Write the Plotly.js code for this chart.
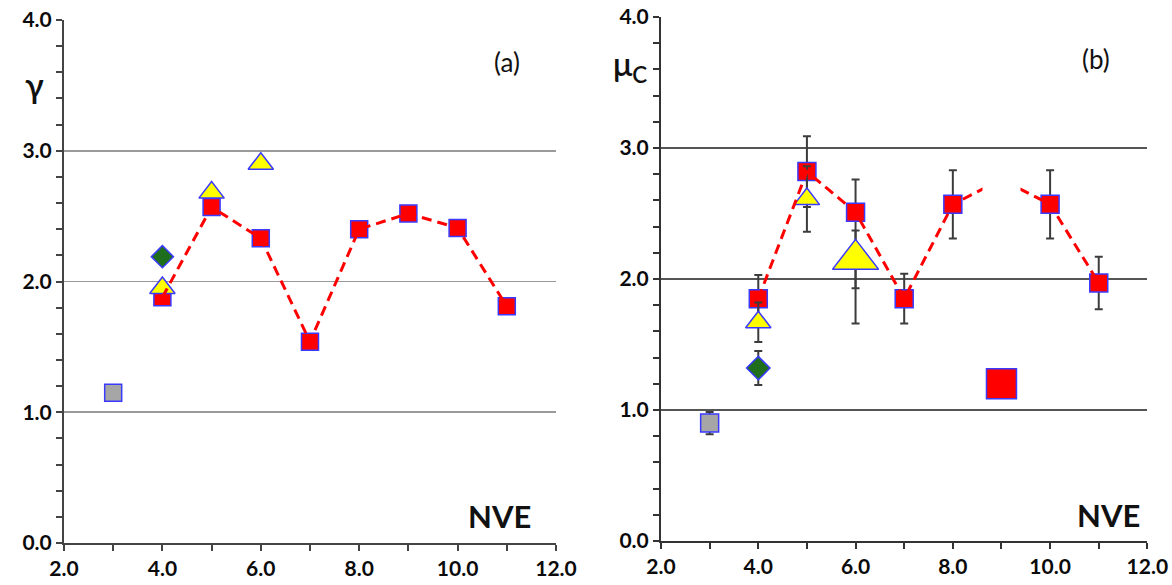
<!DOCTYPE html>
<html>
<head>
<meta charset="utf-8">
<script src="https://cdn.plot.ly/plotly-3.0.1.min.js"></script>
<style>
  html, body { margin: 0; padding: 0; background: #fff; }
  #chart { width: 1172px; height: 585px; }
</style>
</head>
<body>
<div id="chart"></div>
<script>
// ---- (a) gamma vs NVE ----
const nveMain = [4, 5, 6, 7, 8, 9, 10, 11];
const gammaMain = [1.88, 2.57, 2.33, 1.54, 2.40, 2.52, 2.41, 1.81];
const nveGrayA = [3];
const gammaGray = [1.15];
const nveDiamondA = [4];
const gammaDiamond = [2.19];
const nveTriA = [4, 5, 6];
const gammaTri = [1.95, 2.68, 2.90];

// ---- (b) mu_c vs NVE ----
const nveLineB = [4, 5, 6, 7, 8, 9, 10, 11];
const muLine = [1.85, 2.82, 2.51, 1.85, 2.57, 2.76, 2.57, 1.97];
const nveSqB = [4, 5, 6, 7, 8, 10, 11];
const muSq = [1.85, 2.82, 2.51, 1.85, 2.57, 2.57, 1.97];
const muSqErrPlus = [0.18, 0.27, 0.25, 0.19, 0.26, 0.26, 0.20];
const muSqErrMinus = [0.18, 0.27, 0.85, 0.19, 0.26, 0.26, 0.20];
const nveBigSq = [9];
const muBigSq = [1.20];
const nveGrayB = [3];
const muGray = [0.90];
const muGrayErr = [0.085];
const nveDiamondB = [4];
const muDiamond = [1.32];
const muDiamondErr = [0.13];
const nveTriB = [4, 5];
const muTri = [1.67, 2.61];
const muTriErr = [0.15, 0.25];
const nveBigTri = [6];
const muBigTri = [2.15];
const muBigTriErr = [0.22];
// open stretch of the dashed guide around NVE 9
const nveOpen = [9];

const RED = '#ff0000';
const EDGE = '#3a3aff';
const ERR = '#3c3c3c';

function errBar(plus, minus) {
  return { type: 'data', symmetric: minus === undefined, array: plus,
           arrayminus: minus, color: ERR, thickness: 2, width: 4, visible: true };
}

const traces = [
  // panel (a)
  { x: nveGrayA, y: gammaGray, xaxis: 'x', yaxis: 'y', mode: 'markers', type: 'scatter',
    marker: { symbol: 'square', size: 17, color: '#a6a6a6', line: { color: EDGE, width: 1.5 } } },
  { x: nveMain, y: gammaMain, xaxis: 'x', yaxis: 'y', mode: 'markers', type: 'scatter',
    marker: { symbol: 'square', size: 17, color: RED, line: { color: EDGE, width: 1.5 } } },
  { x: nveTriA, y: gammaTri, xaxis: 'x', yaxis: 'y', mode: 'markers', type: 'scatter',
    marker: { symbol: 'triangle-up', size: 22, color: '#ffff00', line: { color: EDGE, width: 1.5 } } },
  { x: nveDiamondA, y: gammaDiamond, xaxis: 'x', yaxis: 'y', mode: 'markers', type: 'scatter',
    marker: { symbol: 'diamond', size: 17, color: '#1e6e1e', line: { color: EDGE, width: 1.5 } } },
  { x: nveMain, y: gammaMain, xaxis: 'x', yaxis: 'y', mode: 'lines', type: 'scatter',
    line: { color: RED, width: 3, dash: '10px,6px' } },

  // panel (b)
  { x: nveGrayB, y: muGray, xaxis: 'x2', yaxis: 'y2', mode: 'markers', type: 'scatter',
    error_y: errBar(muGrayErr),
    marker: { symbol: 'square', size: 18, color: '#a6a6a6', line: { color: EDGE, width: 1.5 } } },
  { x: nveSqB, y: muSq, xaxis: 'x2', yaxis: 'y2', mode: 'markers', type: 'scatter',
    error_y: errBar(muSqErrPlus, muSqErrMinus),
    marker: { symbol: 'square', size: 18, color: RED, line: { color: EDGE, width: 1.5 } } },
  { x: nveBigSq, y: muBigSq, xaxis: 'x2', yaxis: 'y2', mode: 'markers', type: 'scatter',
    marker: { symbol: 'square', size: 30, color: RED, line: { color: EDGE, width: 1.5 } } },
  { x: nveTriB, y: muTri, xaxis: 'x2', yaxis: 'y2', mode: 'markers', type: 'scatter',
    error_y: errBar(muTriErr),
    marker: { symbol: 'triangle-up', size: 22, color: '#ffff00', line: { color: EDGE, width: 1.5 } } },
  { x: nveBigTri, y: muBigTri, xaxis: 'x2', yaxis: 'y2', mode: 'markers', type: 'scatter',
    error_y: errBar(muBigTriErr),
    marker: { symbol: 'triangle-up', size: 40, color: '#ffff00', line: { color: EDGE, width: 1.5 } } },
  { x: nveDiamondB, y: muDiamond, xaxis: 'x2', yaxis: 'y2', mode: 'markers', type: 'scatter',
    error_y: errBar(muDiamondErr),
    marker: { symbol: 'diamond', size: 18, color: '#1e6e1e', line: { color: EDGE, width: 1.5 } } },
  { x: nveLineB, y: muLine, xaxis: 'x2', yaxis: 'y2', mode: 'lines', type: 'scatter',
    line: { color: RED, width: 3, dash: '10px,6px' } },
  // blank the guide where no value is plotted
  { x: nveOpen, y: nveOpen.map(v => muLine[nveLineB.indexOf(v)]), xaxis: 'x2', yaxis: 'y2',
    mode: 'markers', type: 'scatter', opacity: 1,
    marker: { symbol: 'square', size: 38, color: '#ffffff', opacity: 1, line: { width: 0 } } }
];

const tickFont = { family: 'Lato, "Open Sans", sans-serif', size: 21, color: '#0a0a0a', weight: 700 };

function xAxis(domain, lineColor) {
  return {
    domain: domain, range: [2, 12], dtick: 2, tick0: 2, tickformat: '.1f',
    showgrid: false, zeroline: false, showline: true, linecolor: lineColor, linewidth: 2,
    ticks: 'outside', ticklen: 6, tickwidth: 2, tickcolor: lineColor,
    minor: { dtick: 1, ticks: 'outside', ticklen: 6, tickwidth: 2, tickcolor: lineColor, showgrid: false },
    tickfont: tickFont, ticklabeloverflow: 'allow', fixedrange: true
  };
}
function yAxis(domain, anchor, lineColor, gridColor, gridWidth) {
  return {
    domain: domain, anchor: anchor, range: [0, 4], dtick: 1, tick0: 0, tickformat: '.1f',
    showgrid: true, gridcolor: gridColor, gridwidth: gridWidth,
    zeroline: false, showline: true, linecolor: lineColor, linewidth: 2,
    ticks: 'outside', ticklen: 6, tickwidth: 2, tickcolor: lineColor,
    minor: { dtick: 0.2, ticks: 'outside', ticklen: 6, tickwidth: 2, tickcolor: lineColor, showgrid: false },
    tickfont: tickFont, fixedrange: true
  };
}

const labelFont = { family: 'Lato, "Open Sans", sans-serif', color: '#111' };

const layout = {
  width: 1172, height: 585,
  margin: { l: 0, r: 0, t: 0, b: 0 },
  paper_bgcolor: '#fff', plot_bgcolor: 'rgba(0,0,0,0)',
  showlegend: false,
  xaxis: Object.assign(xAxis([0.0546, 0.4744], '#444'), { anchor: 'y' }),
  yaxis: yAxis([0.0718, 0.9658], 'x', '#444', '#9a9a9a', 1.5),
  xaxis2: Object.assign(xAxis([0.564, 0.979], '#333'), { anchor: 'y2' }),
  yaxis2: yAxis([0.0752, 0.9709], 'x2', '#333', '#555', 2),
  annotations: [
    { text: 'γ', xref: 'paper', yref: 'paper', x: 23 / 1172, y: 1 - 62 / 585,
      showarrow: false, font: Object.assign({ size: 34, weight: 600 }, labelFont) },
    { text: '(a)', xref: 'x', yref: 'y', x: 11.0, y: 3.68, showarrow: false,
      font: Object.assign({ size: 26 }, labelFont) },
    { text: '<b>NVE</b>', xref: 'x', yref: 'y', x: 10.85, y: 0.21, showarrow: false,
      font: Object.assign({ size: 31 }, labelFont) },
    { text: 'μ<sub>C</sub>', xref: 'paper', yref: 'paper', x: 630 / 1172, y: 1 - 42 / 585,
      showarrow: false, font: Object.assign({ size: 32, weight: 600 }, labelFont) },
    { text: '(b)', xref: 'x2', yref: 'y2', x: 10.95, y: 3.68, showarrow: false,
      font: Object.assign({ size: 26 }, labelFont) },
    { text: '<b>NVE</b>', xref: 'x2', yref: 'y2', x: 11.2, y: 0.2, showarrow: false,
      font: Object.assign({ size: 31 }, labelFont) }
  ]
};

Plotly.newPlot('chart', traces, layout, { displayModeBar: false, staticPlot: true });
</script>
</body>
</html>
